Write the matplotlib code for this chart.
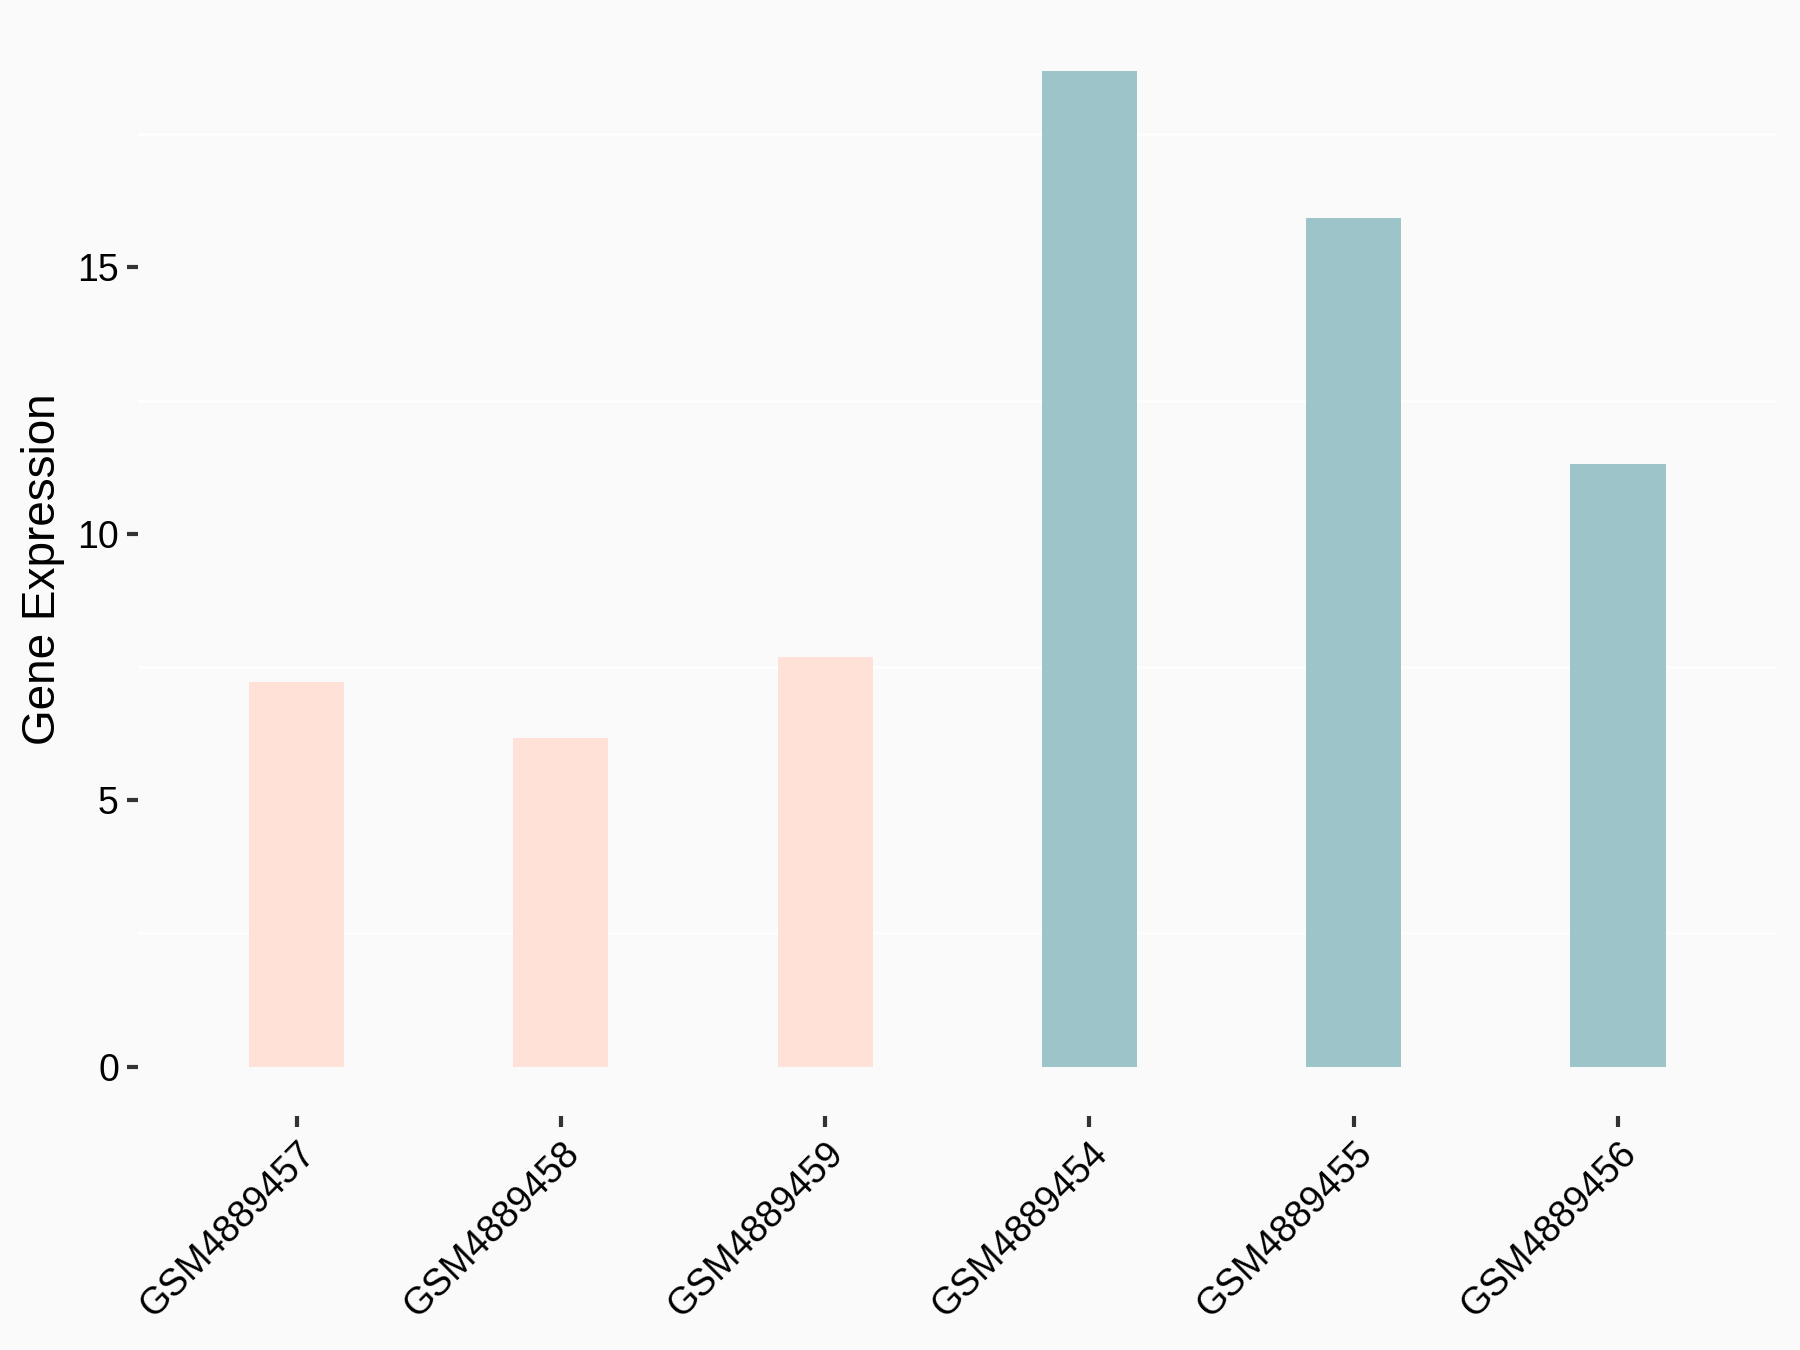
import matplotlib.pyplot as plt
import numpy as np

# data
samples = ["GSM4889457", "GSM4889458", "GSM4889459",
           "GSM4889454", "GSM4889455", "GSM4889456"]
expression = [7.22, 6.16, 7.69, 18.68, 15.93, 11.31]
groups = ["ctrl", "ctrl", "ctrl", "treat", "treat", "treat"]

group_colors = {"ctrl": "#FFE1D7", "treat": "#9DC4C8"}
bg = "#FAFAFA"

plt.rcParams['font.family'] = ['Liberation Sans', 'DejaVu Sans']

fig = plt.figure(figsize=(6, 4.5), dpi=300, facecolor=bg)
ax = fig.add_axes([0.0767, 0.173, 0.987 - 0.0767, 0.984 - 0.173])
ax.set_facecolor(bg)

x = np.arange(len(samples))
ax.bar(x, expression, width=0.36,
       color=[group_colors[g] for g in groups], zorder=2)

# ggplot style expansion
ymax = max(expression)
ax.set_ylim(-0.05 * ymax, 1.05 * ymax)
ax.set_xlim(-0.6, len(samples) - 0.4)

ax.set_yticks([0, 5, 10, 15])
ax.set_yticks([2.5, 7.5, 12.5, 17.5], minor=True)
ax.grid(which='minor', axis='y', color='white', linewidth=0.6, zorder=0)
ax.grid(which='major', visible=False)

for s in ax.spines.values():
    s.set_visible(False)

ax.set_xticks(x)
ax.set_xticklabels(samples)
ax.tick_params(axis='both', which='major', colors='#333333', labelcolor='black',
               labelsize=9, length=2.6, width=1.0, pad=2)
ax.tick_params(axis='y', which='minor', length=0)
for lab in ax.get_xticklabels():
    lab.set_rotation(45)
    lab.set_rotation_mode('anchor')
    lab.set_ha('right')
    lab.set_va('top')

ax.set_ylabel('Gene Expression', fontsize=11, labelpad=3)

fig.savefig('out.png', dpi=300, facecolor=bg)
